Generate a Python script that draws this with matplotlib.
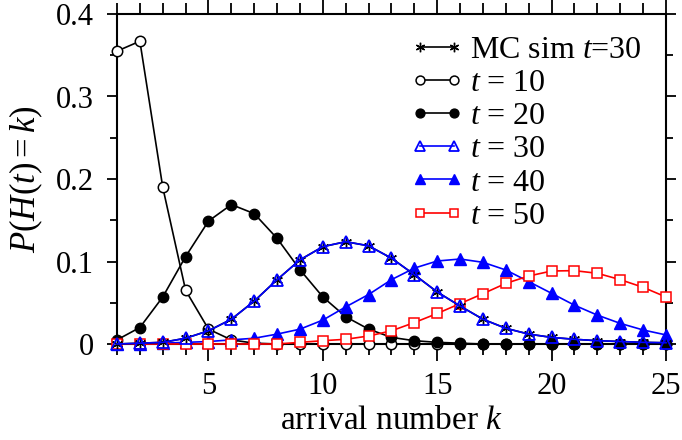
import matplotlib
matplotlib.use("Agg")
import matplotlib.pyplot as plt
from matplotlib.ticker import MultipleLocator

plt.rcParams['font.family'] = ['Liberation Serif', 'DejaVu Serif']
plt.rcParams['mathtext.fontset'] = 'custom'
plt.rcParams['mathtext.rm'] = 'Liberation Serif'
plt.rcParams['mathtext.it'] = 'Liberation Serif:italic'
plt.rcParams['mathtext.bf'] = 'Liberation Serif:bold'

k = list(range(1, 26))
p_t10 = [0.355, 0.367, 0.190, 0.065, 0.018, 0.005, 0.001, 0, 0, 0, 0, 0, 0,
         0, 0, 0, 0, 0, 0, 0, 0, 0, 0, 0, 0]
p_t20 = [0.005, 0.020, 0.057, 0.106, 0.149, 0.169, 0.158, 0.128, 0.090, 0.057,
         0.033, 0.018, 0.008, 0.004, 0.002, 0.001, 0, 0, 0, 0, 0, 0, 0, 0, 0]
p_t30 = [0.000, 0.001, 0.002, 0.007, 0.016, 0.030, 0.052, 0.078, 0.102, 0.118,
         0.124, 0.119, 0.104, 0.084, 0.063, 0.046, 0.030, 0.019, 0.012, 0.008,
         0.0057, 0.004, 0.003, 0.002, 0.0015]
p_mc30 = [0.000, 0.001, 0.002, 0.007, 0.016, 0.030, 0.052, 0.078, 0.102, 0.118,
          0.124, 0.119, 0.104, 0.084, 0.063, 0.046, 0.030, 0.019, 0.012, 0.008,
          0.0057, 0.004, 0.003, 0.002, 0.0015]
p_t40 = [0, 0, 0.001, 0.002, 0.003, 0.005, 0.007, 0.012, 0.018, 0.029,
         0.045, 0.060, 0.078, 0.092, 0.1006, 0.103, 0.099, 0.0897, 0.0756, 0.0614,
         0.047, 0.035, 0.025, 0.017, 0.011]
p_t50 = [0, 0, 0, 0, 0, 0, 0, 0, 0.002, 0.004,
         0.0057, 0.0097, 0.016, 0.026, 0.037, 0.049, 0.061, 0.0735, 0.0824, 0.0885,
         0.0889, 0.0857, 0.078, 0.0687, 0.057]

fig = plt.figure(figsize=(6.82, 4.40), dpi=100)
ax = fig.add_axes([117/682, 1-344/440, (666-117)/682, (344-14)/440])

lw = 1.2
ax.plot(k, p_mc30, '-', color='black', lw=lw, marker=(6, 2, 0), ms=8, mew=1.0,
        label='MC sim $t$=30', clip_on=False, zorder=3)
ax.plot(k, p_t10, '-', color='black', lw=lw, marker='o', ms=7.5, mfc='white',
        mec='black', mew=1.1, label='$t$ = 10', clip_on=False, zorder=2)
ax.plot(k, p_t20, '-', color='black', lw=lw, marker='o', ms=7.5, mfc='black',
        mec='black', label='$t$ = 20', clip_on=False, zorder=2)
ax.plot(k, p_t30, '-', color='blue', lw=lw, marker='^', ms=8.5, mfc='none',
        mec='blue', mew=1.3, label='$t$ = 30', clip_on=False, zorder=4)
ax.plot(k, p_t40, '-', color='blue', lw=lw, marker='^', ms=9, mfc='blue',
        mec='blue', label='$t$ = 40', clip_on=False, zorder=2)
ax.plot(k, p_t50, '-', color='red', lw=lw, marker='s', ms=6.5, mfc='white',
        mec='red', mew=1.1, label='$t$ = 50', clip_on=False, zorder=2)

ax.set_xlim(1, 25)
ax.set_ylim(0, 0.4)
ax.xaxis.set_minor_locator(MultipleLocator(1))
ax.yaxis.set_minor_locator(MultipleLocator(0.05))
ax.set_yticks([0, 0.1, 0.2, 0.3, 0.4])
ax.set_yticklabels(['0', '0.1', '0.2', '0.3', '0.4'])
ax.set_xticks([5, 10, 15, 20, 25])

for s in ax.spines.values():
    s.set_linewidth(1.5)
    s.set_zorder(1)

ax.tick_params(axis='x', which='major', direction='out', length=12.5, width=1.3,
               top=True, labelsize=22, pad=8)
ax.tick_params(axis='x', which='minor', direction='out', length=8, width=1.3,
               top=True)
ax.tick_params(axis='y', which='major', direction='out', length=7.5, width=1.3,
               right=True, labelsize=22, pad=9)
ax.tick_params(axis='y', which='minor', direction='out', length=5, width=1.3,
               right=True)

ax.set_xlabel('arrival number $k$', fontsize=24, labelpad=3)
ax.set_ylabel('$P(H(t) = k)$', fontsize=25, labelpad=8)

leg = ax.legend(loc='upper right', bbox_to_anchor=(0.955, 0.935), frameon=False,
                fontsize=23, handlelength=1.65, handletextpad=0.2,
                labelspacing=0.12, borderaxespad=0.0, borderpad=0.0,
                numpoints=2, markerscale=0.85)

fig.savefig('out.png', dpi=100)
